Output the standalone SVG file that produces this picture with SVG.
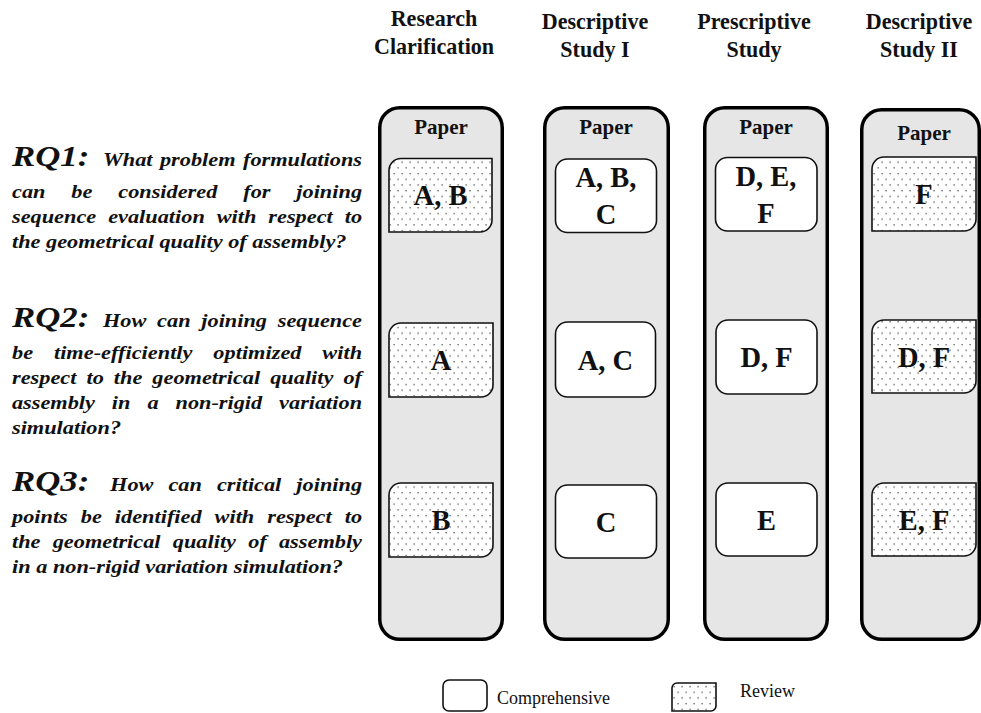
<svg xmlns="http://www.w3.org/2000/svg" width="981" height="713" viewBox="0 0 981 713">
  <defs>
    <!-- sparse dot fill for review items -->
    <pattern id="dots" width="8" height="11.4" patternUnits="userSpaceOnUse">
      <rect width="8" height="11.4" fill="#fff"/>
      <rect x="1.5" y="2" width="1.2" height="1.2" fill="#333"/>
      <rect x="5.5" y="7.7" width="1.2" height="1.2" fill="#333"/>
    </pattern>
    <style>
      .hdr { font-family: "Liberation Serif", "Times New Roman", serif; font-weight: bold; font-size: 24px; fill: #111; text-anchor: middle; }
      .paper { font-family: "Liberation Serif", "Times New Roman", serif; font-weight: bold; font-size: 21px; fill: #111; text-anchor: middle; }
      .col { fill: #e6e6e6; stroke: #000; stroke-width: 3.5; }
      .comp { fill: #fff; stroke: #111; stroke-width: 1.6; }
      .rev { fill: url(#dots); stroke: #111; stroke-width: 1.6; }
      .lbl { font-family: "Liberation Serif", "Times New Roman", serif; font-weight: bold; font-size: 28.5px; fill: #111; text-anchor: middle; }
      .rq { font-family: "Liberation Serif", "Times New Roman", serif; font-weight: bold; font-style: italic; font-size: 29px; fill: #111; }
      .q { font-family: "Liberation Serif", "Times New Roman", serif; font-weight: bold; font-style: italic; font-size: 18.6px; fill: #111; }
      .leg { font-family: "Liberation Serif", "Times New Roman", serif; font-size: 18px; fill: #111; }
    </style>
  </defs>

  <rect width="981" height="713" fill="#fff"/>

  <!-- stage headings, set slightly condensed -->
  <g id="headings">
    <text class="hdr" transform="translate(434,26) scale(0.92,1)">Research</text>
    <text class="hdr" transform="translate(434,54) scale(0.92,1)">Clarification</text>
    <text class="hdr" transform="translate(595,29) scale(0.92,1)">Descriptive</text>
    <text class="hdr" transform="translate(595,57) scale(0.92,1)">Study I</text>
    <text class="hdr" transform="translate(754,29) scale(0.92,1)">Prescriptive</text>
    <text class="hdr" transform="translate(754,57) scale(0.92,1)">Study</text>
    <text class="hdr" transform="translate(919,29) scale(0.92,1)">Descriptive</text>
    <text class="hdr" transform="translate(919,57) scale(0.92,1)">Study II</text>
  </g>

  <!-- research questions (set wide, justified) -->
  <g id="questions" transform="scale(1.2,1)">
    <g id="rq1">
      <text class="rq" x="10" y="166">RQ1:</text>
      <text class="q" x="85.8" y="166" word-spacing="1.5" textLength="215.9" lengthAdjust="spacing">What problem formulations</text>
      <text class="q" x="10" y="198" word-spacing="16.9" textLength="291.7" lengthAdjust="spacing">can be considered for joining</text>
      <text class="q" x="10" y="223" word-spacing="5.3" textLength="291.7" lengthAdjust="spacing">sequence evaluation with respect to</text>
      <text class="q" x="10" y="248">the geometrical quality of assembly?</text>
    </g>
    <g id="rq2">
      <text class="rq" x="10" y="327">RQ2:</text>
      <text class="q" x="85.8" y="327" word-spacing="4.3" textLength="215.9" lengthAdjust="spacing">How can joining sequence</text>
      <text class="q" x="10" y="359" word-spacing="12.7" textLength="291.7" lengthAdjust="spacing">be time-efficiently optimized with</text>
      <text class="q" x="10" y="384" word-spacing="3.7" textLength="291.7" lengthAdjust="spacing">respect to the geometrical quality of</text>
      <text class="q" x="10" y="409" word-spacing="9.5" textLength="291.7" lengthAdjust="spacing">assembly in a non-rigid variation</text>
      <text class="q" x="10" y="434">simulation?</text>
    </g>
    <g id="rq3">
      <text class="rq" x="10" y="491">RQ3:</text>
      <text class="q" x="91.7" y="491" word-spacing="7.9" textLength="210" lengthAdjust="spacing">How can critical joining</text>
      <text class="q" x="10" y="523" word-spacing="6.2" textLength="291.7" lengthAdjust="spacing">points be identified with respect to</text>
      <text class="q" x="10" y="548" word-spacing="5.5" textLength="291.7" lengthAdjust="spacing">the geometrical quality of assembly</text>
      <text class="q" x="10" y="573">in a non-rigid variation simulation?</text>
    </g>
  </g>

  <!-- Research Clarification -->
  <g id="col-rc">
    <rect class="col" x="379.75" y="107.75" width="122.5" height="531.5" rx="20"/>
    <text class="paper" x="441" y="134">Paper</text>
    <g id="rc-rq1">
      <path class="rev" d="M401,158.5 H492 V220 A12,12 0 0 1 480,232 H389 V170.5 A12,12 0 0 1 401,158.5 Z"/>
      <text class="lbl" x="440.5" y="205">A, B</text>
    </g>
    <g id="rc-rq2">
      <path class="rev" d="M401,323 H493 V385 A12,12 0 0 1 481,397 H389 V335 A12,12 0 0 1 401,323 Z"/>
      <text class="lbl" x="441" y="370">A</text>
    </g>
    <g id="rc-rq3">
      <path class="rev" d="M401,483 H493 V545 A12,12 0 0 1 481,557 H389 V495 A12,12 0 0 1 401,483 Z"/>
      <text class="lbl" x="441" y="530">B</text>
    </g>
  </g>

  <!-- Descriptive Study I -->
  <g id="col-ds1">
    <rect class="col" x="544.75" y="107.75" width="123.5" height="531.5" rx="20"/>
    <text class="paper" x="606" y="134">Paper</text>
    <g id="ds1-rq1">
      <rect class="comp" x="555.5" y="159" width="101" height="73.5" rx="12"/>
      <text class="lbl" x="606" y="187">A, B,</text>
      <text class="lbl" x="606" y="224">C</text>
    </g>
    <g id="ds1-rq2">
      <rect class="comp" x="555.5" y="322" width="100" height="75" rx="12"/>
      <text class="lbl" x="605.5" y="369.5">A, C</text>
    </g>
    <g id="ds1-rq3">
      <rect class="comp" x="555.5" y="485" width="101" height="73" rx="12"/>
      <text class="lbl" x="606" y="531.5">C</text>
    </g>
  </g>

  <!-- Prescriptive Study -->
  <g id="col-ps">
    <rect class="col" x="704.75" y="107.75" width="122.5" height="531.5" rx="20"/>
    <text class="paper" x="766" y="134">Paper</text>
    <g id="ps-rq1">
      <rect class="comp" x="715.5" y="157.5" width="101.5" height="73.5" rx="12"/>
      <text class="lbl" x="766" y="186">D, E,</text>
      <text class="lbl" x="766" y="223">F</text>
    </g>
    <g id="ps-rq2">
      <rect class="comp" x="716" y="320" width="101" height="74" rx="12"/>
      <text class="lbl" x="766.5" y="367">D, F</text>
    </g>
    <g id="ps-rq3">
      <rect class="comp" x="716" y="483" width="101" height="73" rx="12"/>
      <text class="lbl" x="766.5" y="529.5">E</text>
    </g>
  </g>

  <!-- Descriptive Study II -->
  <g id="col-ds2">
    <rect class="col" x="861.75" y="109.75" width="117.5" height="529.5" rx="20"/>
    <text class="paper" x="924" y="140">Paper</text>
    <g id="ds2-rq1">
      <path class="rev" d="M884,157 H976 V219 A12,12 0 0 1 964,231 H872 V169 A12,12 0 0 1 884,157 Z"/>
      <text class="lbl" x="924" y="204">F</text>
    </g>
    <g id="ds2-rq2">
      <path class="rev" d="M884,320 H976 V381 A12,12 0 0 1 964,393 H872 V332 A12,12 0 0 1 884,320 Z"/>
      <text class="lbl" x="924" y="366.5">D, F</text>
    </g>
    <g id="ds2-rq3">
      <path class="rev" d="M884,483 H976 V544 A12,12 0 0 1 964,556 H872 V495 A12,12 0 0 1 884,483 Z"/>
      <text class="lbl" x="924" y="529.5">E, F</text>
    </g>
  </g>

  <!-- legend -->
  <g id="legend">
    <g id="legend-comprehensive">
      <rect class="comp" x="443" y="680" width="44" height="31" rx="6"/>
      <text class="leg" x="497" y="704">Comprehensive</text>
    </g>
    <g id="legend-review">
      <path class="rev" d="M677,683 H716 V706 A5,5 0 0 1 711,711 H672 V688 A5,5 0 0 1 677,683 Z"/>
      <text class="leg" x="740" y="697">Review</text>
    </g>
  </g>
</svg>
